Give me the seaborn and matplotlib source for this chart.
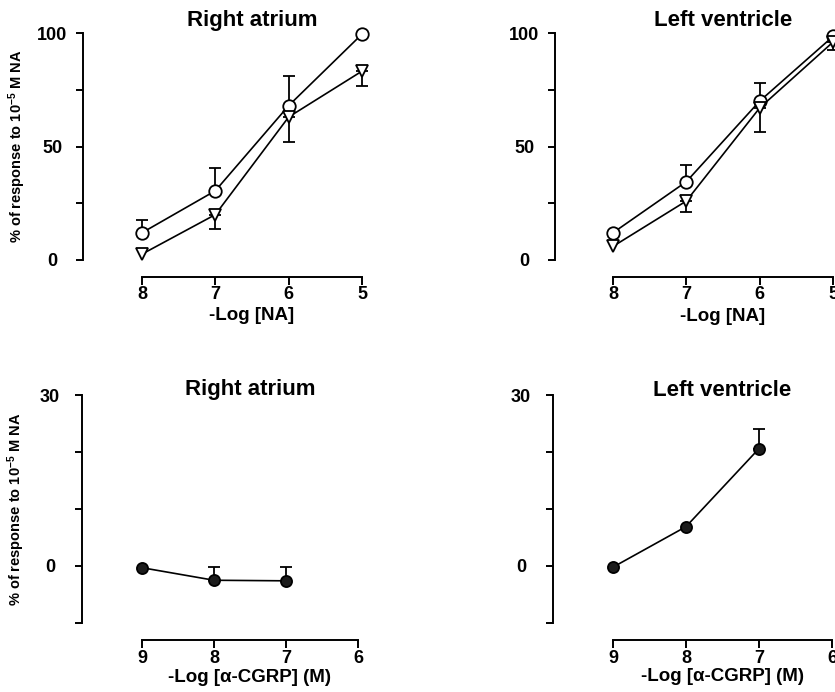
import numpy as np
import pandas as pd
import matplotlib
matplotlib.use("Agg")
import matplotlib.pyplot as plt
from matplotlib import transforms
import seaborn as sns

# Concentration-response data (% of response to 10^-5 M noradrenaline)
na_log = [8, 7, 6, 5]
ra_ctrl = [12, 30.5, 68, 99.5]
ra_ctrl_err_up = [5.5, 10, 13, 0]
ra_trt = [2.6, 20, 63, 83.2]
ra_trt_err_dn = [0, 6.5, 11, 6.5]

lv_ctrl = [12, 34.5, 70, 98.5]
lv_ctrl_err_up = [0, 7.5, 8, 0]
lv_trt = [6, 26, 67, 96]
lv_trt_err_dn = [0, 4.7, 10.5, 3.5]

cgrp_log = [9, 8, 7]
ra_cgrp = [-0.3, -2.5, -2.6]
ra_cgrp_err_up = [0, 2.3, 2.4]
lv_cgrp = [-0.2, 6.9, 20.6]
lv_cgrp_err_up = [0, 0, 3.4]

W, H = 835, 692
sns.set_theme(style="ticks")
plt.rcParams["font.family"] = ["Liberation Sans", "DejaVu Sans"]
plt.rcParams["font.weight"] = "bold"
plt.rcParams["axes.labelweight"] = "bold"
plt.rcParams["mathtext.fontset"] = "custom"
plt.rcParams["mathtext.rm"] = "Liberation Sans:bold"
plt.rcParams["mathtext.it"] = "Liberation Sans:bold"
plt.rcParams["mathtext.bf"] = "Liberation Sans:bold"

fig = plt.figure(figsize=(W / 100, H / 100), dpi=100)


def px_axes(left, right, top, bottom):
    return fig.add_axes([left / W, 1 - bottom / H, (right - left) / W, (bottom - top) / H])


LW = 1.4
YLABEL = r"% of response to 10$^{-5}$ M NA"


def style_axes(ax, xlim, xticks, ylim, yticks, ylabels, title, xlabel,
               title_y, xlabel_y, ylabel=True, ypad=17, xpad=0.8):
    ax.set_xlim(*xlim)
    ax.set_ylim(*ylim)
    ax.set_facecolor("white")
    for s in ("top", "right"):
        ax.spines[s].set_visible(False)
    for s in ("left", "bottom"):
        ax.spines[s].set_linewidth(LW)
        ax.spines[s].set_color("black")
    ax.spines["bottom"].set_position(("outward", 12))
    ax.spines["bottom"].set_bounds(min(xticks), max(xticks))
    ax.spines["left"].set_bounds(*ylim)
    ax.set_xticks(xticks)
    ax.set_xticklabels([str(t) for t in xticks])
    ax.set_yticks(yticks)
    ax.set_yticklabels(ylabels)
    ax.tick_params(axis="x", length=6, width=LW, pad=xpad, labelsize=13,
                   colors="black", direction="out")
    ax.tick_params(axis="y", length=5, width=LW, pad=ypad, labelsize=13,
                   colors="black", direction="out")
    for lbl in ax.get_yticklabels() + ax.get_xticklabels():
        lbl.set_fontweight("bold")
    for lbl in ax.get_yticklabels():
        lbl.set_horizontalalignment("center")
    ax.set_xlabel("")
    ax.set_ylabel("")
    mid = (min(xticks) + max(xticks)) / 2
    tr = transforms.blended_transform_factory(ax.transData, fig.transFigure)
    ax.text(mid, 1 - title_y / H, title, transform=tr, ha="center", va="baseline",
            fontsize=16, fontweight="bold", color="black")
    ax.text(mid, 1 - xlabel_y / H, xlabel, transform=tr, ha="center", va="baseline",
            fontsize=13.5, fontweight="bold", color="black")
    if ylabel:
        ax.set_ylabel(YLABEL, fontsize=10.5, fontweight="bold", color="black")
        ax.yaxis.set_label_coords(-0.19, 0.5)


def draw_series(ax, x, y, marker, filled, err_lo=None, err_hi=None, ms=9):
    df = pd.DataFrame({"x": x, "y": y})
    lo = np.array(err_lo if err_lo is not None else [0] * len(x), float)
    hi = np.array(err_hi if err_hi is not None else [0] * len(x), float)
    mask = (lo > 0) | (hi > 0)
    if mask.any():
        ax.errorbar(np.array(x)[mask], np.array(y)[mask],
                    yerr=[lo[mask], hi[mask]], fmt="none", ecolor="black",
                    elinewidth=1.3, capsize=4, capthick=1.3, zorder=2, clip_on=False)
    sns.lineplot(data=df, x="x", y="y", ax=ax, color="black", lw=1.2,
                 marker=marker, ms=ms, mew=1.3, mec="black",
                 mfc="#1c1c1c" if filled else "white",
                 zorder=3, clip_on=False, legend=False)


# Top left: right atrium, noradrenaline
ax1 = px_axes(83, 370, 33, 260)
draw_series(ax1, na_log, ra_ctrl, "o", False, err_hi=ra_ctrl_err_up)
draw_series(ax1, na_log, ra_trt, "v", False, err_lo=ra_trt_err_dn)
style_axes(ax1, (8 + 59 / 73.3, 5 - 8 / 73.3), [5, 6, 7, 8], (0, 100),
           [0, 25, 50, 75, 100], ["0", "", "50", "", "100"],
           "Right atrium", "-Log [NA]", 26, 320)

# Top right: left ventricle, noradrenaline
ax2 = px_axes(555, 835, 33, 260)
draw_series(ax2, na_log, lv_ctrl, "o", False, err_hi=lv_ctrl_err_up)
draw_series(ax2, na_log, lv_trt, "v", False, err_lo=lv_trt_err_dn)
style_axes(ax2, (8 + 58 / 73.3, 5 - 2 / 73.3), [5, 6, 7, 8], (0, 100),
           [0, 25, 50, 75, 100], ["0", "", "50", "", "100"],
           "Left ventricle", "-Log [NA]", 26, 321, ylabel=False)

# Bottom left: right atrium, alpha-CGRP
ax3 = px_axes(82, 370, 395, 623)
draw_series(ax3, cgrp_log, ra_cgrp, "o", True, err_hi=ra_cgrp_err_up, ms=8)
style_axes(ax3, (9 + 60 / 72, 6 - 12 / 72), [6, 7, 8, 9], (-10, 30),
           [-10, 0, 10, 20, 30], ["", "0", "", "", "30"],
           "Right atrium", "-Log [\u03b1-CGRP] (M)", 395, 682, ypad=18, xpad=1.5)

# Bottom right: left ventricle, alpha-CGRP
ax4 = px_axes(553, 835, 395, 623)
draw_series(ax4, cgrp_log, lv_cgrp, "o", True, err_hi=lv_cgrp_err_up, ms=8)
style_axes(ax4, (9 + 60 / 73, 6 - 3 / 73), [6, 7, 8, 9], (-10, 30),
           [-10, 0, 10, 20, 30], ["", "0", "", "", "30"],
           "Left ventricle", "-Log [\u03b1-CGRP] (M)", 396, 681, ylabel=False,
           ypad=18, xpad=1.5)

fig.savefig("out.png", dpi=100, facecolor="white")
